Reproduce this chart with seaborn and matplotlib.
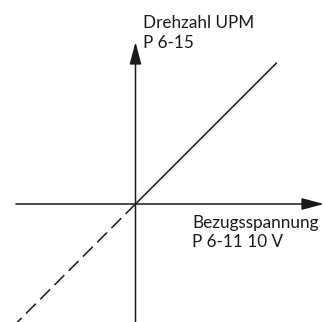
import matplotlib
matplotlib.use("Agg")
import matplotlib.pyplot as plt
import seaborn as sns
import pandas as pd

# Data (schematic units: 1 unit = solid line span)
speed_x = [0.0, 1.0]
speed_y = [0.0, 1.0]
neg_x = [0.0, -0.85]
neg_y = [0.0, -0.85]
y_label = ["Drehzahl UPM", "P 6-15"]
x_label = ["Bezugsspannung", "P 6-11 10 V"]

sns.set_theme(style="white")
plt.rcParams["font.family"] = ["Lato", "DejaVu Sans"]
plt.rcParams["lines.scale_dashes"] = False

fig = plt.figure(figsize=(3.24, 3.22), dpi=100)
ax = fig.add_axes([0, 0, 1, 1])

col = "#1a1a1a"
lw = 1.1

# axes with arrow heads
arrow = dict(arrowstyle="-|>,head_length=0.68,head_width=0.18", lw=lw,
             color=col, mutation_scale=20, shrinkA=0, shrinkB=0)
ax.annotate("", xy=(1.337, 0), xytext=(-0.848, 0), arrowprops=arrow)
ax.annotate("", xy=(0, 1.149), xytext=(0, -0.9), arrowprops=arrow)

df1 = pd.DataFrame({"x": speed_x, "y": speed_y})
df2 = pd.DataFrame({"x": neg_x, "y": neg_y})
sns.lineplot(data=df1, x="x", y="y", sort=False, color=col, lw=lw, ax=ax)
sns.lineplot(data=df2, x="x", y="y", sort=False, color=col, lw=lw,
             linestyle=(0, (10, 4.5)), ax=ax)
ax.set_xlim(-0.961, 1.337)
ax.set_ylim(-0.837, 1.447)
ax.axis("off")

fs = 12.3
ax.text(0.053, 1.248, y_label[0], fontsize=fs, color=col, va="baseline", ha="left")
ax.text(0.053, 1.106, y_label[1], fontsize=fs, color=col, va="baseline", ha="left")
ax.text(0.401, -0.170, x_label[0], fontsize=fs, color=col, va="baseline", ha="left")
ax.text(0.401, -0.305, x_label[1], fontsize=fs, color=col, va="baseline", ha="left")

fig.savefig("out.png", dpi=100, facecolor="white")
